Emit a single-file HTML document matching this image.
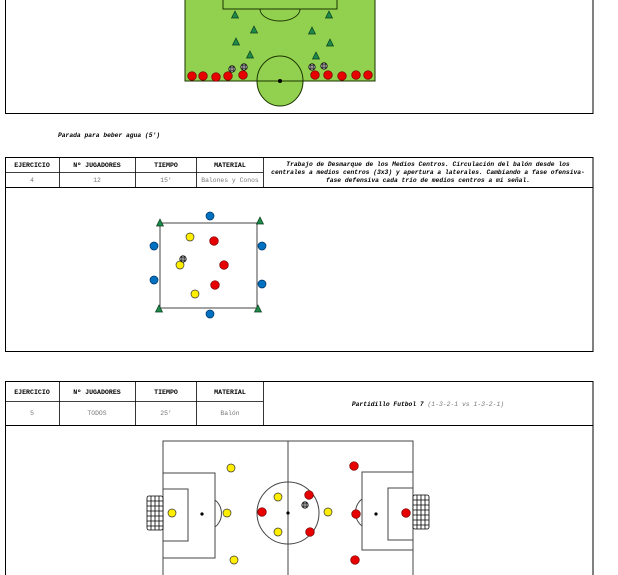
<!DOCTYPE html>
<html><head><meta charset="utf-8"><style>
html,body{margin:0;padding:0;background:#fff;width:618px;height:575px;overflow:hidden}
svg{display:block}
.h{font-family:"Liberation Mono",monospace;font-weight:bold;font-size:6.6px;fill:#000}
.d{font-family:"Liberation Mono",monospace;font-size:6.4px;fill:#777}
.t{font-family:"Liberation Mono",monospace;font-weight:bold;font-style:italic;font-size:6.3px;fill:#000}
</style></head><body>
<svg width="618" height="575" viewBox="0 0 618 575" xmlns="http://www.w3.org/2000/svg">
<defs>
<g id="cone"><polygon points="0,-4 3.5,3 -3.5,3" fill="#1e8a4a" stroke="#0b3d1e" stroke-width="0.7"/></g>
<g id="ball"><circle r="3.2" fill="#fff" stroke="#000" stroke-width="0.8"/><path d="M-3.2,0H3.2M0,-3.2V3.2M-2.4,-1.6H2.4M-2.4,1.6H2.4M-1.4,-2.8V2.8M1.4,-2.8V2.8" stroke="#000" stroke-width="0.5"/></g>
<g id="r"><circle r="4.3" fill="#e60000" stroke="#7a0000" stroke-width="0.7"/></g>
<g id="y"><circle r="4" fill="#ffee00" stroke="#333" stroke-width="0.7"/></g>
<g id="b"><circle r="4" fill="#0070c0" stroke="#003060" stroke-width="0.7"/></g>
</defs>

<rect x="5.5" y="-5" width="587.5" height="118.5" fill="none" stroke="#000" stroke-width="1"/>
<rect x="185" y="-2" width="190" height="83" fill="#92d050" stroke="#1a3300" stroke-width="1"/>
<rect x="223" y="-2" width="114" height="11" fill="none" stroke="#1a3300" stroke-width="1"/>
<path d="M260,9 A20,12 0 0 0 300,9" fill="none" stroke="#1a3300" stroke-width="0.9"/>
<ellipse cx="280" cy="81" rx="23" ry="25" fill="#92d050" stroke="#1a3300" stroke-width="1"/>
<line x1="185" y1="81" x2="375" y2="81" stroke="#1a3300" stroke-width="1"/>
<circle cx="280" cy="81" r="2" fill="#000"/>
<use href="#cone" x="235" y="15"/><use href="#cone" x="329" y="15"/>
<use href="#cone" x="254" y="30"/><use href="#cone" x="312" y="31"/>
<use href="#cone" x="236" y="42"/><use href="#cone" x="330" y="43"/>
<use href="#cone" x="250" y="55"/><use href="#cone" x="316" y="56"/>
<use href="#r" x="192" y="76"/><use href="#r" x="203" y="76"/><use href="#r" x="216" y="77"/><use href="#r" x="228" y="76"/><use href="#r" x="243" y="75"/>
<use href="#r" x="315" y="75"/><use href="#r" x="328" y="75"/><use href="#r" x="342" y="76"/><use href="#r" x="356" y="75"/><use href="#r" x="368" y="75"/>
<use href="#ball" x="232" y="69"/><use href="#ball" x="244" y="67"/><use href="#ball" x="312" y="67"/><use href="#ball" x="324" y="66"/>

<text class="t" x="58" y="137">Parada para beber agua (5')</text>

<rect x="5.5" y="157.5" width="587.5" height="194" fill="none" stroke="#000" stroke-width="1"/>
<line x1="5" y1="187.5" x2="593" y2="187.5" stroke="#000"/>
<line x1="5" y1="172.5" x2="263" y2="172.5" stroke="#000" stroke-width="0.8"/>
<g stroke="#000" stroke-width="0.8"><line x1="59.5" y1="157" x2="59.5" y2="187"/><line x1="135.5" y1="157" x2="135.5" y2="187"/><line x1="196.5" y1="157" x2="196.5" y2="187"/><line x1="263.5" y1="157" x2="263.5" y2="187"/></g>
<g text-anchor="middle">
<text class="h" x="32" y="167">EJERCICIO</text><text class="h" x="97" y="167">Nº JUGADORES</text><text class="h" x="166" y="167">TIEMPO</text><text class="h" x="230" y="167">MATERIAL</text>
<text class="d" x="32" y="182">4</text><text class="d" x="97" y="182">12</text><text class="d" x="166" y="182">15'</text><text class="d" x="230" y="182">Balones y Conos</text>
<text class="t" x="428" y="166">Trabajo de Desmarque de los Medios Centros. Circulación del balón desde los</text>
<text class="t" x="428" y="174">centrales a medios centros (3x3) y apertura a laterales. Cambiando a fase ofensiva-</text>
<text class="t" x="428" y="182">fase defensiva cada trío de medios centros a mi señal.</text>
</g>
<rect x="160" y="223" width="97" height="85" fill="none" stroke="#444" stroke-width="1"/>
<use href="#cone" x="160" y="223"/><use href="#cone" x="260" y="221"/><use href="#cone" x="159" y="309"/><use href="#cone" x="258" y="309"/>
<use href="#b" x="210" y="216"/><use href="#b" x="154" y="246"/><use href="#b" x="262" y="246"/><use href="#b" x="154" y="280"/><use href="#b" x="262" y="284"/><use href="#b" x="210" y="314"/>
<use href="#y" x="190" y="237"/><use href="#y" x="180" y="265"/><use href="#y" x="195" y="294"/>
<use href="#r" x="214" y="241"/><use href="#r" x="224" y="265"/><use href="#r" x="215" y="285"/>
<use href="#ball" x="183" y="259"/>

<rect x="5.5" y="381.5" width="587.5" height="200" fill="none" stroke="#000" stroke-width="1"/>
<line x1="5" y1="425.5" x2="593" y2="425.5" stroke="#000"/>
<line x1="5" y1="401.5" x2="263" y2="401.5" stroke="#000" stroke-width="0.8"/>
<g stroke="#000" stroke-width="0.8"><line x1="59.5" y1="381" x2="59.5" y2="425"/><line x1="135.5" y1="381" x2="135.5" y2="425"/><line x1="196.5" y1="381" x2="196.5" y2="425"/><line x1="263.5" y1="381" x2="263.5" y2="425"/></g>
<g text-anchor="middle">
<text class="h" x="32" y="394">EJERCICIO</text><text class="h" x="97" y="394">Nº JUGADORES</text><text class="h" x="166" y="394">TIEMPO</text><text class="h" x="230" y="394">MATERIAL</text>
<text class="d" x="32" y="415">5</text><text class="d" x="97" y="415">TODOS</text><text class="d" x="166" y="415">25'</text><text class="d" x="230" y="415">Balón</text>
<text x="428" y="406"><tspan class="t">Partidillo Futbol 7 </tspan><tspan class="d" font-style="italic">(1-3-2-1 vs 1-3-2-1)</tspan></text>
</g>
<g fill="none" stroke="#444" stroke-width="1">
<rect x="163" y="441" width="250" height="140"/>
<line x1="288" y1="441" x2="288" y2="581"/>
<rect x="163" y="473" width="52" height="85"/>
<rect x="163" y="489" width="25" height="52"/>
<rect x="362" y="472" width="51" height="78"/>
<rect x="388" y="488" width="25" height="52"/>
<circle cx="288" cy="513" r="31"/>
<path d="M215,500 A14,16 0 0 1 215,527"/>
<path d="M362,499 A14,16 0 0 0 362,526"/>
</g>
<g stroke="#000" stroke-width="0.8" fill="#fff">
<rect x="147" y="496" width="16" height="34" rx="2"/>
<path d="M147,501H163M147,506H163M147,511H163M147,516H163M147,521H163M147,526H163M151,496V530M155,496V530M159,496V530" fill="none"/>
<rect x="413" y="495" width="16" height="34" rx="2"/>
<path d="M413,500H429M413,505H429M413,510H429M413,515H429M413,520H429M413,525H429M417,495V529M421,495V529M425,495V529" fill="none"/>
</g>
<circle cx="202" cy="514" r="1.6" fill="#000"/><circle cx="376" cy="514" r="1.6" fill="#000"/><circle cx="288" cy="513" r="1.6" fill="#000"/>
<use href="#y" x="231" y="468"/><use href="#y" x="172" y="513"/><use href="#y" x="227" y="513"/><use href="#y" x="278" y="497"/><use href="#y" x="278" y="532"/><use href="#y" x="328" y="512"/><use href="#y" x="234" y="560"/>
<use href="#r" x="354" y="466"/><use href="#r" x="262" y="512"/><use href="#r" x="309" y="495"/><use href="#r" x="310" y="532"/><use href="#r" x="356" y="514"/><use href="#r" x="406" y="513"/><use href="#r" x="355" y="560"/>
<use href="#ball" x="305" y="505"/>
</svg>
</body></html>
